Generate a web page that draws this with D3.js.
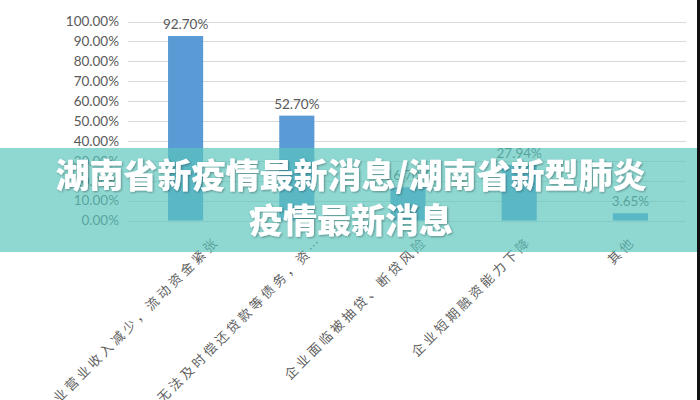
<!DOCTYPE html>
<html><head><meta charset="utf-8">
<script src="https://cdn.jsdelivr.net/npm/d3@7"></script>
<style>
html,body{margin:0;padding:0;background:#fff;}
svg{display:block;}
</style></head>
<body>
<svg id="chart" width="700" height="400"></svg>
<script>
const categories = [
  "企业营业收入减少，流动资金紧张",
  "企业无法及时偿还贷款等债务，资…",
  "企业面临被抽贷、断贷风险",
  "企业短期融资能力下降",
  "其他"
];
const values = [0.927, 0.527, 0.167, 0.2794, 0.0365];
const valueLabels = ["92.70%", "52.70%", "16.70%", "27.94%", "3.65%"];
const yTicks = [0, 0.1, 0.2, 0.3, 0.4, 0.5, 0.6, 0.7, 0.8, 0.9, 1.0];
const bannerLines = ["湖南省新疫情最新消息/湖南省新型肺炎", "疫情最新消息"];

const svg = d3.select("#chart");
const x = d3.scaleBand().domain(categories).range([130, 686]).paddingInner(0.684).paddingOuter(0.342);
const y = d3.scaleLinear().domain([0, 1]).range([220.5, 21.5]);
const labelX = d3.scalePoint().domain(categories).range([217, 633]);

// gridlines
svg.append("g").selectAll("line").data(yTicks).join("line")
  .attr("x1", 128).attr("x2", 686)
  .attr("y1", d => Math.round(y(d)) + 0.5).attr("y2", d => Math.round(y(d)) + 0.5)
  .attr("stroke", "#d9d9d9").attr("stroke-width", 1);

// y axis labels
const yAxis = d3.axisLeft(y).tickValues(yTicks).tickSize(0).tickPadding(0)
  .tickFormat(d => (d * 100).toFixed(2) + "%");
const yg = svg.append("g").attr("transform", "translate(119,0)").call(yAxis);
yg.select(".domain").remove();
yg.selectAll("text").attr("font-family", "Lato, 'Open Sans', sans-serif")
  .attr("font-size", "13.5px").attr("fill", "#595959");

// bars
svg.append("g").selectAll("rect").data(values).join("rect")
  .attr("x", (d, i) => x(categories[i]))
  .attr("width", x.bandwidth())
  .attr("y", d => y(d))
  .attr("height", d => y(0) - y(d))
  .attr("fill", "#5b9bd5");

// value labels
svg.append("g").selectAll("text").data(values).join("text")
  .attr("x", (d, i) => x(categories[i]) + x.bandwidth() / 2)
  .attr("y", d => y(d) - 7)
  .attr("text-anchor", "middle")
  .attr("font-family", "Lato, 'Open Sans', sans-serif")
  .attr("font-size", "13.5px").attr("fill", "#595959")
  .text((d, i) => valueLabels[i]);

// category labels
svg.append("g").selectAll("text").data(categories).join("text")
  .attr("transform", d => `translate(${labelX(d)},239) rotate(-45)`)
  .attr("text-anchor", "end")
  .attr("dy", "0.35em")
  .attr("font-family", "'Noto Sans CJK SC', sans-serif")
  .attr("font-size", "13px").attr("letter-spacing", "3.3px")
  .attr("fill", "#5f5f5f")
  .text(d => d);

// banner overlay
const defs = svg.append("defs");
const f = defs.append("filter").attr("id", "sh").attr("x", "-10%").attr("y", "-30%").attr("width", "120%").attr("height", "160%");
f.append("feDropShadow").attr("dx", 1).attr("dy", 1).attr("stdDeviation", 1.2).attr("flood-color", "#000").attr("flood-opacity", 0.35);

svg.append("rect").attr("x", 0).attr("y", 148).attr("width", 697).attr("height", 104)
  .attr("fill", "rgb(90,198,189)").attr("fill-opacity", 0.68);

svg.append("g").selectAll("text").data(bannerLines).join("text")
  .attr("x", 351)
  .attr("y", (d, i) => 188 + i * 45)
  .attr("text-anchor", "middle")
  .attr("font-family", "'Noto Sans CJK SC', sans-serif")
  .attr("font-weight", 900)
  .attr("font-size", "34px")
  .attr("fill", "#fff")
  .attr("filter", "url(#sh)")
  .text(d => d);

// right black edge
svg.append("rect").attr("x", 697).attr("y", 0).attr("width", 3).attr("height", 400).attr("fill", "#111");
</script>
</body></html>
